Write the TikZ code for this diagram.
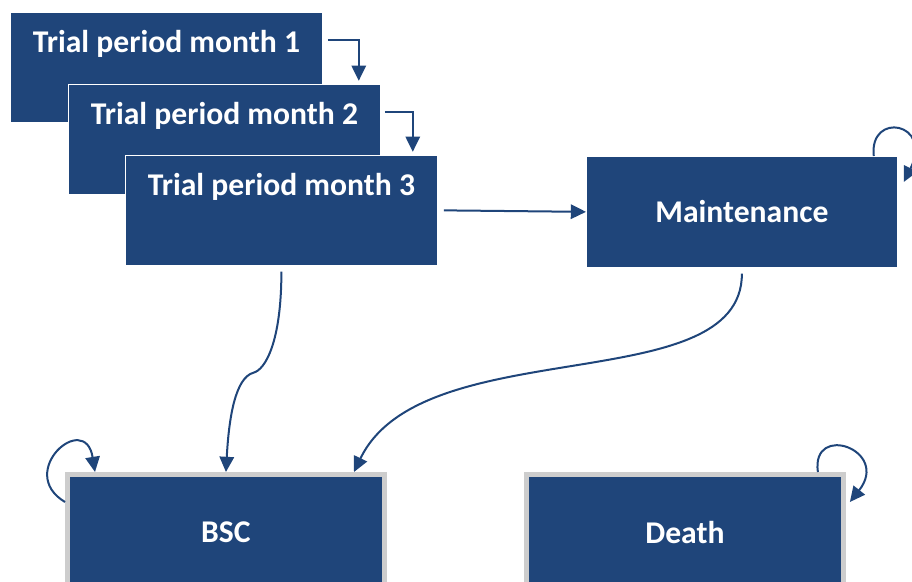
\documentclass[tikz,border=0pt]{standalone}
\usepackage{fontspec}
\setmainfont{Carlito}
\usetikzlibrary{arrows.meta}
\definecolor{navy}{RGB}{31,69,122}
\definecolor{boxedge}{RGB}{205,205,205}

\begin{document}
\begin{tikzpicture}[x=0.025cm, y=-0.025cm,
  state/.style={fill=navy, draw=white, line width=0.5pt, text=white, font=\fontsize{22.5}{27}\selectfont\bfseries, inner sep=0pt, anchor=north west},
  trial/.style={state, minimum width=7.8cm, text height=1cm, text depth=1.75cm},
  outcome/.style={state, draw=boxedge, line width=0.12cm, minimum width=7.925cm, minimum height=2.9cm},
  link/.style={draw=navy, line width=0.05cm, -{Triangle[length=0.38cm, width=0.36cm]}}]

\useasboundingbox (0,0) rectangle (912,582);

\node[trial] (trial month 1) at (10,12) {Trial period month 1};
\node[trial] (trial month 2) at (68,84) {Trial period month 2};
\node[trial] (trial month 3) at (125,155) {Trial period month 3};
\node[state, minimum width=7.775cm, minimum height=2.775cm] (maintenance) at (586,156) {Maintenance};
\node[outcome] (bsc) at (65,472) {BSC};
\node[outcome] (death) at (524,472) {Death};

\draw[link] ([xshift=0.125cm, yshift=-0.7cm]trial month 1.north east) -| ([xshift=-0.55cm, yshift=0.08cm]trial month 2.north east);
\draw[link] ([xshift=0.1cm, yshift=-0.7cm]trial month 2.north east) -| ([xshift=-0.625cm, yshift=0.08cm]trial month 3.north east);
\draw[link] ([xshift=0.15cm]trial month 3.east) -- (maintenance.west);

\draw[link] ([yshift=-0.15cm]trial month 3.south) .. controls +(0,70) and +(12,-3) .. ++(-28,101) .. controls +(-18,5) and +(3,-55) .. (bsc.north);
\draw[link] ([yshift=-0.15cm]maintenance.south) .. controls +(0,127) and +(68,-142) .. ([xshift=3.2cm]bsc.north);

\draw[link] ([xshift=-0.6cm]maintenance.north east) .. controls +(-5,-45) and +(30,-60) .. ([xshift=0.15cm, yshift=-0.65cm]maintenance.north east);
\draw[link] ([yshift=-0.75cm]bsc.north west) .. controls +(-50,-30) and +(-10,-62) .. ([xshift=0.75cm]bsc.north west);
\draw[link] ([xshift=-0.7cm]death.north east) .. controls +(-7,-50) and +(41,-52) .. ([xshift=0.1cm, yshift=-0.75cm]death.north east);
\end{tikzpicture}
\end{document}
